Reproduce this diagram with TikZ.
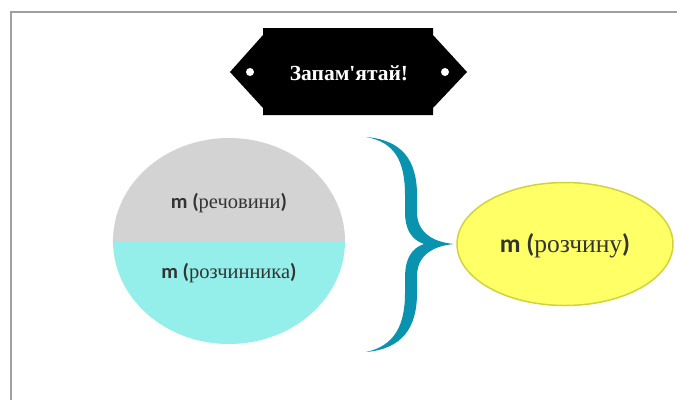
\documentclass[tikz,border=0pt]{standalone}
\usepackage{fontspec}
\setmainfont{Liberation Serif}
\newfontfamily\labelsans{Carlito}
\newfontfamily\titleserif{Liberation Serif}
\usetikzlibrary{shapes.geometric}
\definecolor{framegray}{HTML}{A0A0A0}
\definecolor{massgray}{HTML}{D3D3D3}
\definecolor{masscyan}{HTML}{94EEEA}
\definecolor{bracetea}{HTML}{0A93AF}
\definecolor{solfill}{HTML}{FFFF66}
\definecolor{soldraw}{HTML}{D2D23C}
\definecolor{labelink}{HTML}{333333}
\newcommand{\mpart}[1]{{\labelsans\bfseries m (}#1{\labelsans\bfseries )}}

\begin{document}
\begin{tikzpicture}[
  x=1pt,
  y=-1pt,
  masslabel/.style={text=labelink, font=\fontsize{20.5}{24}\selectfont, inner sep=0pt},
  sollabel/.style={text=labelink, font=\fontsize{25.5}{30}\selectfont, inner sep=0pt}
]
  \def\massellipse{(229,241) ellipse (116 and 103)}

  \useasboundingbox (0,0) rectangle (677,400);
  \draw[framegray, line width=1.5pt] (11,400) -- (11,12) -- (677,12);

  % banner
  \fill[black] (263,28) -- (433,28) -- (433,35) -- (467,72) -- (433,108) -- (433,115)
    -- (263,115) -- (263,108) -- (230,72) -- (263,35) -- cycle;
  \fill[white] (250,72) circle (4);
  \fill[white] (445,72) circle (4);
  \node[white, font=\titleserif\fontsize{21.5}{26}\selectfont\bfseries] (title) at (349,73) {Запам'ятай!};

  % solute + solvent
  \begin{scope}
    \clip \massellipse;
    \fill[massgray] (100,130) rectangle (360,241);
    \fill[masscyan] (100,241) rectangle (360,350);
  \end{scope}
  \node[masslabel] (solute) at (229,203) {\mpart{речовини}};
  \node[masslabel] (solvent) at (229,273) {\mpart{розчинника}};

  % brace
  \fill[bracetea] (366,137) .. controls (402,140) and (417,160) .. (417,195) -- (417,212)
    .. controls (417,232) and (432,242) .. (454,244)
    .. controls (432,246) and (417,256) .. (417,276) -- (417,293)
    .. controls (417,328) and (402,349) .. (366,352)
    .. controls (394,346) and (405,326) .. (405,293) -- (405,278)
    .. controls (405,258) and (412,248) .. (424,244)
    .. controls (412,240) and (405,230) .. (405,212) -- (405,195)
    .. controls (405,160) and (394,142) .. (366,137) -- cycle;

  \node[ellipse, fill=solfill, draw=soldraw, line width=1.5pt,
    minimum width=216, minimum height=123] (solution) at (565,244) {};
  \node[sollabel] (sollabel) at (565,246) {\mpart{розчину}};
\end{tikzpicture}
\end{document}
